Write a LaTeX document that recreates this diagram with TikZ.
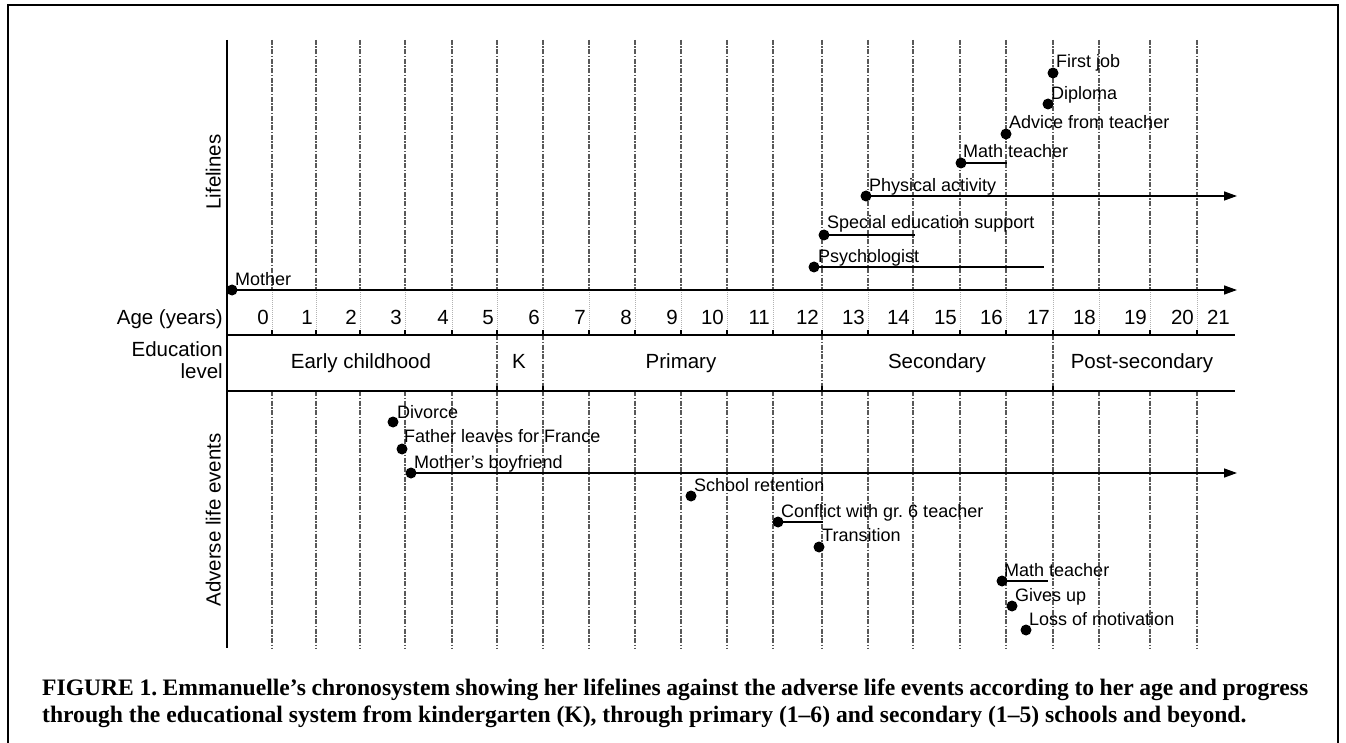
\documentclass[tikz,border=0pt]{standalone}
\usepackage{fontspec}
\setmainfont{Liberation Sans}
\newfontfamily\capfont{Liberation Serif}
\usetikzlibrary{arrows.meta}
\frenchspacing
\begin{document}
\begin{tikzpicture}[x=1pt,y=-1pt,
  gridline/.style={draw=gray!70!black, line width=1.4pt, dash pattern=on 5pt off 1.5pt on 1.5pt off 1.5pt},
  faint/.style={draw=gray!60, line width=0.8pt, dash pattern=on 1pt off 1pt},
  axisline/.style={line width=2pt},
  tickmark/.style={line width=2pt},
  evdot/.style={circle, fill=black, inner sep=0pt, minimum size=11pt},
  evlab/.style={anchor=base west, inner sep=0pt, font=\fontsize{18}{20}\selectfont},
  axlab/.style={inner sep=0pt, font=\fontsize{20.5}{22}\selectfont},
  evline/.style={line width=1.2pt},
  arr/.style={line width=1.4pt, -{Triangle[length=13pt,width=9pt]}},
  frameline/.style={line width=2.2pt},
  caplab/.style={anchor=base west, inner sep=0pt, font=\capfont\bfseries\fontsize{23.6}{26}\selectfont}
]
\useasboundingbox (0,0) rectangle (1346,743);
\draw[frameline] (8,743) -- (8,5) -- (1338,5) -- (1338,743);

% grid
\foreach \x in {272,316,360,405,452,497,543,589,635,681,727,773,822,868,913,960,1006,1053,1099,1150,1197} {
  \draw[gridline] (\x,40) -- (\x,290);
  \draw[faint] (\x,290) -- (\x,335);
  \draw[gridline] (\x,391) -- (\x,648);
  \draw[tickmark] (\x,335) -- (\x,330);
}
\foreach \x in {497,543,822,1053} {
  \draw[gridline] (\x,335) -- (\x,391);
  \draw[tickmark] (\x,391) -- (\x,386);
}

% axes
\coordinate (axTop) at (227,40);
\coordinate (axBot) at (227,648);
\draw[axisline] (axTop) -- (axBot);
\coordinate (ageL) at (227,335);
\coordinate (ageR) at (1235,335);
\draw[axisline] (ageL) -- (ageR);
\coordinate (eduL) at (227,391);
\coordinate (eduR) at (1235,391);
\draw[line width=1.5pt] (eduL) -- (eduR);

% age labels
\foreach \i/\x in {0/272,1/316,2/360,3/405,4/452,5/497,6/543,7/589,8/635,9/681,10/727,11/773,12/822,13/868,14/913,15/960,16/1006,17/1053,18/1099,19/1150,20/1197} {
  \node[axlab, anchor=base east] (age\i) at ({\x-3},324) {\i};
}
\node[axlab, anchor=base east] (age21) at (1230,324) {21};

% side labels
\node[axlab, anchor=base east] (agelab) at (223,324) {Age (years)};
\node[axlab, anchor=base east] (edulab1) at (223,356) {Education};
\node[axlab, anchor=base east] (edulab2) at (223,378) {level};
\node[axlab, rotate=90, anchor=south] (lifelab) at (221,172) {Lifelines};
\node[axlab, rotate=90, anchor=south] (advlab) at (221,520) {Adverse life events};

% education levels
\node[axlab, anchor=base] (early) at (361,368) {Early childhood};
\node[axlab, anchor=base] (kind) at (519,368) {K};
\node[axlab, anchor=base] (prim) at (681,368) {Primary};
\node[axlab, anchor=base] (sec) at (937,368) {Secondary};
\node[axlab, anchor=base] (post) at (1142,368) {Post-secondary};

% lifelines
\node[evdot] (dMother) at (232,290) {};
\node[evlab] (tMother) at ([shift={(3,-5)}]dMother.center) {Mother};
\coordinate (eMother) at (1237,290);
\draw[arr] (dMother.center) -- (eMother);

\node[evdot] (dPsy) at (814,267) {};
\node[evlab] (tPsy) at ([shift={(4,-5)}]dPsy.center) {Psychologist};
\coordinate (ePsy) at (1044,267);
\draw[evline] (dPsy.center) -- (ePsy);

\node[evdot] (dSpec) at (824,235) {};
\node[evlab] (tSpec) at ([shift={(3,-6)}]dSpec.center) {Special education support};
\coordinate (eSpec) at (915,235);
\draw[evline] (dSpec.center) -- (eSpec);

\node[evdot] (dPhys) at (866,196) {};
\node[evlab] (tPhys) at ([shift={(3,-4)}]dPhys.center) {Physical activity};
\coordinate (ePhys) at (1237,196);
\draw[arr] (dPhys.center) -- (ePhys);

\node[evdot] (dMath) at (961,163) {};
\node[evlab] (tMath) at ([shift={(2,-5)}]dMath.center) {Math teacher};
\coordinate (eMath) at (1007,163);
\draw[evline] (dMath.center) -- (eMath);

\node[evdot] (dAdv) at (1006,134) {};
\node[evlab] (tAdv) at ([shift={(3,-5)}]dAdv.center) {Advice from teacher};

\node[evdot] (dDip) at (1048,104) {};
\node[evlab] (tDip) at ([shift={(3,-4)}]dDip.center) {Diploma};

\node[evdot] (dJob) at (1053,73) {};
\node[evlab] (tJob) at ([shift={(3,-5)}]dJob.center) {First job};

% adverse life events
\node[evdot] (dDiv) at (393,422) {};
\node[evlab] (tDiv) at ([shift={(4,-4)}]dDiv.center) {Divorce};

\node[evdot] (dFat) at (402,449) {};
\node[evlab] (tFat) at ([shift={(2,-7)}]dFat.center) {Father leaves for France};

\node[evdot] (dBoy) at (411,473) {};
\node[evlab] (tBoy) at ([shift={(3,-5)}]dBoy.center) {Mother’s boyfriend};
\coordinate (eBoy) at (1237,473);
\draw[arr] (dBoy.center) -- (eBoy);

\node[evdot] (dRet) at (691,496) {};
\node[evlab] (tRet) at ([shift={(3,-5)}]dRet.center) {School retention};

\node[evdot] (dCon) at (778,522) {};
\node[evlab] (tCon) at ([shift={(3,-5)}]dCon.center) {Conflict with gr. 6 teacher};
\coordinate (eCon) at (823,522);
\draw[evline] (dCon.center) -- (eCon);

\node[evdot] (dTra) at (819,547) {};
\node[evlab] (tTra) at ([shift={(3,-6)}]dTra.center) {Transition};

\node[evdot] (dMat2) at (1002,581) {};
\node[evlab] (tMat2) at ([shift={(2,-5)}]dMat2.center) {Math teacher};
\coordinate (eMat2) at (1048,581);
\draw[evline] (dMat2.center) -- (eMat2);

\node[evdot] (dGiv) at (1012,606) {};
\node[evlab] (tGiv) at ([shift={(3,-5)}]dGiv.center) {Gives up};

\node[evdot] (dLos) at (1026,630) {};
\node[evlab] (tLos) at ([shift={(3,-5)}]dLos.center) {Loss of motivation};

% caption
\node[caplab] (cap1) at (42,695) {\makebox[1266pt][s]{FIGURE 1. Emmanuelle’s chronosystem showing her lifelines against the adverse life events according to her age and progress}};
\node[caplab] (cap2) at (42,722) {through the educational system from kindergarten (K), through primary (1–6) and secondary (1–5) schools and beyond.};
\end{tikzpicture}
\end{document}
